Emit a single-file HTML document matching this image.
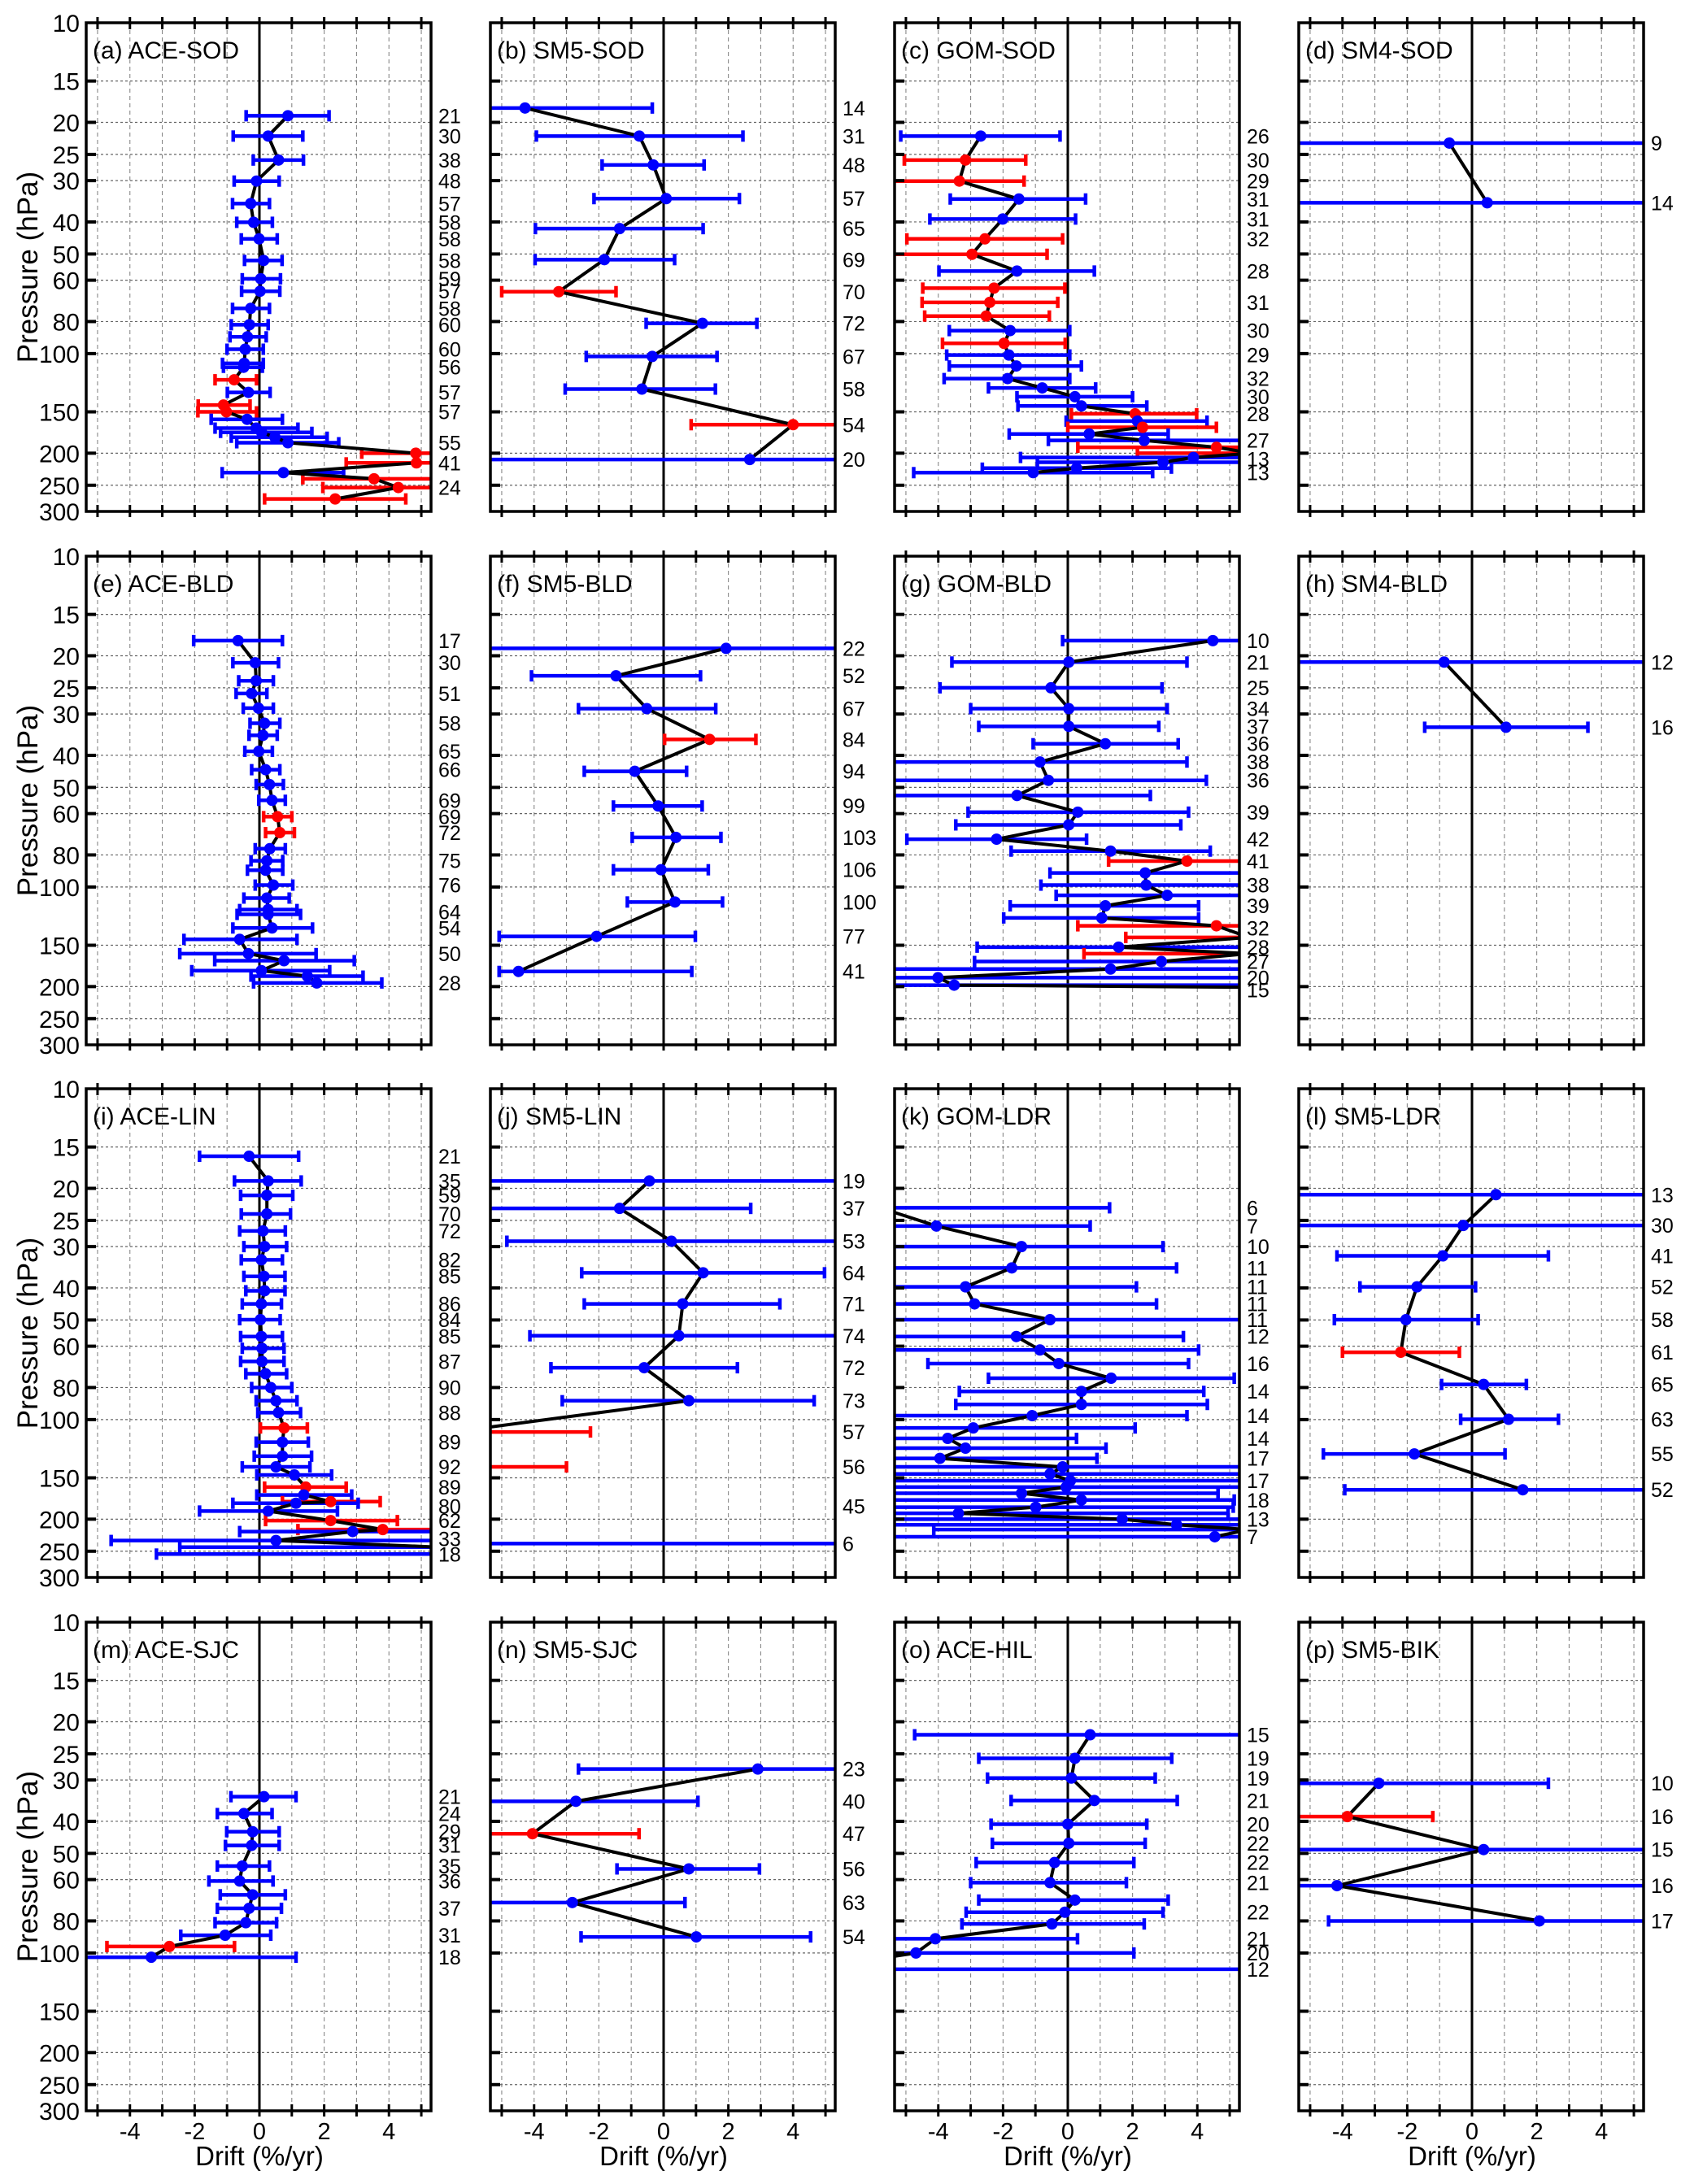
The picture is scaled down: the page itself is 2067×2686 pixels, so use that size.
<!DOCTYPE html>
<html><head><meta charset="utf-8">
<style>
html,body{margin:0;padding:0;background:#fff;}
svg{display:block;font-family:"Liberation Sans",sans-serif;}
</style></head>
<body>
<svg id="chart" width="2067" height="2686" viewBox="0 0 2067 2686" xmlns="http://www.w3.org/2000/svg">
<defs id="defs"></defs>
<g id="root"></g>
</svg>
<script>
// ---------- data ----------
const a_pres=[19.1,22,26,30.1,35.2,40.1,45,52.3,59.4,64.8,73,81.8,89,97,107,110,120,131,143,150,158,168,173,179,186,200,214,229,239,254,275];
const a_drift=[0.88,0.27,0.59,-0.09,-0.27,-0.18,-0.01,0.13,0.04,0.02,-0.27,-0.31,-0.37,-0.44,-0.47,-0.49,-0.78,-0.34,-1.11,-1.02,-0.38,-0.1,0.07,0.48,0.88,4.83,4.85,0.74,3.54,4.29,2.34];
const a_lo=[-0.41,-0.81,-0.19,-0.78,-0.83,-0.7,-0.56,-0.46,-0.53,-0.55,-0.83,-0.87,-0.91,-1.0,-1.14,-1.11,-1.37,-0.99,-1.89,-1.9,-1.49,-1.37,-1.2,-0.87,-0.7,3.16,2.68,-1.15,1.34,1.96,0.16];
const a_hi=[2.15,1.34,1.36,0.61,0.31,0.4,0.55,0.7,0.65,0.63,0.31,0.27,0.21,0.12,0.12,0.09,-0.09,0.33,-0.29,-0.09,0.71,1.19,1.62,2.09,2.45,5.6,5.6,2.6,5.6,5.6,4.52];
const a_red=[16,18,19,25,26,28,29,30];
const a_cntP=[19.1,22,26,30.1,35.2,40.1,45,52.3,59.4,64.8,73,81.8,97,110,131,150,186,214,254];
const a_cnt=[21,30,38,48,57,58,58,58,59,57,58,60,60,56,57,57,55,41,24];

const b_pres=[18.1,22,26.9,34,41.9,52,65,81,102,128,164,209];
const b_drift=[-4.28,-0.75,-0.32,0.08,-1.36,-1.83,-3.24,1.2,-0.35,-0.67,4.0,2.66];
const b_lo=[-5.6,-3.93,-1.9,-2.15,-3.96,-3.97,-5.0,-0.54,-2.39,-3.04,0.85,-5.6];
const b_hi=[-0.35,2.45,1.25,2.34,1.22,0.34,-1.47,2.88,1.65,1.6,5.6,5.6];
const b_red=[6,10];
const b_cntP=b_pres;
const b_cnt=[14,31,48,57,65,69,70,72,67,58,54,20];

const c_pres=[22,26,30.1,34.1,39.2,45,50.1,56.3,63.4,70,77,85.2,93.1,101,109,119,127,135,144,152,160,167,175,183,192,200,206,213,222,229];
const c_drift=[-2.69,-3.16,-3.35,-1.51,-2.01,-2.56,-2.96,-1.57,-2.28,-2.41,-2.52,-1.78,-1.97,-1.82,-1.59,-1.86,-0.79,0.22,0.42,2.08,2.15,2.31,0.66,2.36,4.59,5.7,3.88,2.94,0.27,-1.07];
const c_lo=[-5.16,-5.05,-5.6,-3.63,-4.26,-4.97,-5.6,-3.98,-4.48,-4.5,-4.42,-3.66,-3.87,-3.74,-3.66,-3.82,-2.45,-1.57,-1.54,0.11,-0.05,0,-1.81,-0.6,0.31,2.15,-1.46,-0.94,-2.64,-4.76];
const c_hi=[-0.24,-1.3,-1.35,0.55,0.24,-0.16,-0.64,0.82,-0.09,-0.31,-0.57,0.06,-0.08,0.06,0.42,0.06,0.86,2.0,2.44,3.98,4.3,4.59,3.1,5.6,5.6,8,5.6,5.6,3.2,2.62];
const c_red=[1,2,5,6,8,9,10,12,19,21,24,25];
const c_cntP=[22,26,30.1,34.1,39.2,45,56.3,70,85.2,101,119,135,152,183,208,229];
const c_cnt=[26,30,29,31,31,32,28,31,30,29,32,30,28,27,13,13];

const d_pres=[23.1,35];
const d_drift=[-0.7,0.47];
const d_lo=[-5.6,-5.6];
const d_hi=[5.6,5.6];
const d_red=[];
const d_cntP=d_pres;
const d_cnt=[9,14];

const e_pres=[18,21,23.8,26,28.8,32,34.8,38.9,44.2,49,54.7,61.3,68.5,76.6,83.3,89,98.7,108,117,121,133,144,159,167,179,186,195];
const e_drift=[-0.66,-0.13,-0.1,-0.24,-0.03,0.16,0.11,-0.02,0.19,0.31,0.39,0.56,0.63,0.32,0.23,0.19,0.43,0.23,0.27,0.27,0.39,-0.61,-0.34,0.76,0.06,1.48,1.77];
const e_lo=[-2.03,-0.82,-0.64,-0.72,-0.5,-0.29,-0.32,-0.45,-0.24,-0.1,-0.02,0.13,0.19,-0.13,-0.26,-0.37,-0.13,-0.48,-0.61,-0.69,-0.82,-2.33,-2.46,-1.38,-2.09,-0.26,-0.18];
const e_hi=[0.71,0.59,0.43,0.23,0.43,0.63,0.55,0.4,0.63,0.74,0.8,1.0,1.08,0.8,0.72,0.72,1.03,0.92,1.16,1.27,1.64,1.16,1.75,2.93,2.17,3.2,3.78];
const e_red=[11,12];
const e_cntP=[18,21,26,32,38.9,44.2,54.7,61.3,68.5,83.3,98.7,119,133,159,195];
const e_cnt=[17,30,51,58,65,66,69,69,72,75,76,64,54,50,28];

const f_pres=[19,23,28.9,35.8,44.7,56.9,70.8,88.7,111,141,180];
const f_drift=[1.93,-1.47,-0.52,1.42,-0.89,-0.17,0.38,-0.08,0.35,-2.07,-4.48];
const f_lo=[-5.6,-4.08,-2.63,0.03,-2.45,-1.55,-0.97,-1.55,-1.12,-5.08,-5.08];
const f_hi=[5.6,1.14,1.61,2.85,0.71,1.19,1.77,1.38,1.82,0.98,0.87];
const f_red=[3];
const f_cntP=f_pres;
const f_cnt=[22,52,67,84,94,99,103,106,100,77,41];

const g_pres=[18,20.9,25,28.9,32.7,36.9,41.9,47.6,52.9,59.4,64.9,71.7,77.9,83.5,90.7,98.7,106,114,124,131,142,152,159,168,177,188,198,201];
const g_drift=[4.48,0.03,-0.52,0.03,0.03,1.16,-0.86,-0.6,-1.57,0.31,0.03,-2.2,1.32,3.68,2.39,2.42,3.07,1.16,1.05,4.59,5.6,1.57,5.6,2.89,1.32,-4.01,-3.51,5.6];
const g_lo=[-0.16,-3.58,-3.95,-3.0,-2.75,-1.07,-5.6,-5.6,-5.6,-3.08,-3.46,-4.97,-1.75,1.26,-0.55,-0.83,-0.36,-1.78,-1.98,0.31,1.79,-2.8,0.5,-2.88,-5.6,-5.6,-5.6,5.6];
const g_hi=[5.6,3.68,2.91,3.07,2.81,3.41,3.68,4.28,2.55,3.73,3.49,0.58,4.4,5.6,5.6,5.6,5.6,4.04,4.04,5.6,8,5.6,8,5.6,5.6,5.6,5.6,8];
const g_red=[13,19,20,22];
const g_cntP=[18,20.9,25,28.9,32.7,36.9,41.9,47.6,59.4,71.7,83.5,98.7,114,133,152,168,188,205];
const g_cnt=[10,21,25,34,37,36,38,36,39,42,41,38,39,32,28,27,20,15];

const h_pres=[20.9,32.9];
const h_drift=[-0.86,1.05];
const h_lo=[-5.6,-1.46];
const h_hi=[5.6,3.58];
const h_red=[];
const h_cntP=h_pres;
const h_cnt=[12,16];

const i_pres=[16,19,21,23.9,26.9,30,32.9,36.9,40.8,44.7,49.9,56.1,60.9,66.7,72.7,80,87.7,95.3,106,117,129,139,147,160,169,177,179,189,202,215,218,232,243,255];
const i_drift=[-0.32,0.27,0.23,0.23,0.11,0.16,0.06,0.14,0.16,0.06,0.03,0.06,0.08,0.08,0.19,0.35,0.51,0.59,0.76,0.71,0.71,0.51,1.08,1.43,1.37,2.2,1.13,0.27,2.2,3.81,2.88,0.51,5.6,6];
const i_lo=[-1.85,-0.77,-0.58,-0.56,-0.61,-0.48,-0.56,-0.48,-0.42,-0.53,-0.61,-0.58,-0.53,-0.58,-0.42,-0.24,-0.1,-0.05,0.03,-0.1,-0.16,-0.53,-0.08,0.16,-0.08,0.71,-0.82,-1.85,0.19,1.19,-0.61,-4.58,-2.46,-3.18];
const i_hi=[1.21,1.29,1.03,0.96,0.8,0.84,0.71,0.79,0.79,0.68,0.64,0.71,0.76,0.76,0.84,1.0,1.16,1.27,1.48,1.51,1.61,1.56,2.23,2.68,2.85,3.73,3.05,2.41,4.26,5.6,5.6,5.6,5.6,5.6];
const i_red=[18,23,25,28,29];
const i_cntP=[16,19,21,23.9,26.9,32.9,36.9,44.7,49.9,56.1,66.7,80,95.3,117,139,160,183,202,229,255];
const i_cnt=[21,35,59,70,72,82,85,86,84,85,87,90,88,89,92,89,80,62,33,18];

const j_pres=[19,23,28.9,36,44.7,55.8,69.7,87.7,109,139,237];
const j_drift=[-0.44,-1.36,0.24,1.22,0.59,0.47,-0.6,0.78,-6.5,-6.5,-6.5];
const j_lo=[-5.6,-5.6,-4.84,-2.53,-2.45,-4.13,-3.48,-3.13,-9,-9,-9];
const j_hi=[5.6,2.69,5.6,4.97,3.59,5.6,2.28,4.65,-2.26,-3.0,9];
const j_red=[8,9];
const j_cntP=[19,23,28.9,36,44.7,55.8,69.7,87.7,109,139,183,237];
const j_cnt=[19,37,53,64,71,74,72,73,57,56,45,6];

const k_pres=[22.9,26,30,34.8,39.7,44.7,49.9,56.1,61.6,67.7,75,82.2,90,97.3,106,114,122,131,139,146,153,160,167,175,184,192,200,208,215,226];
const k_drift=[-5.8,-4.06,-1.43,-1.73,-3.16,-2.88,-0.55,-1.59,-0.86,-0.28,1.34,0.42,0.42,-1.1,-2.92,-3.71,-3.16,-3.95,-0.16,-0.55,0.08,-0.05,-1.43,0.42,-0.99,-3.38,1.68,3.36,5.6,4.54];
const k_lo=[-9,-5.6,-5.6,-5.6,-5.6,-5.6,-5.6,-5.6,-5.6,-4.32,-2.45,-3.35,-3.46,-5.6,-5.6,-5.6,-5.6,-5.6,-5.6,-5.6,-5.6,-5.6,-5.6,-5.6,-5.6,-5.6,-5.6,-5.6,-4.14,-5.6];
const k_hi=[1.29,0.69,2.94,3.36,2.12,2.74,5.6,3.57,4.04,3.73,5.14,4.2,4.31,3.68,2.08,0.27,1.18,0.9,5.6,5.6,5.6,5.6,4.64,5.14,5.11,4.95,5.6,5.6,8,5.6];
const k_red=[];
const k_cntP=[22.9,26,30,34.8,39.7,44.7,49.9,56.1,67.7,82.2,97.3,114,131,153,175,200,226];
const k_cnt=[6,7,10,11,11,11,11,12,16,14,14,14,17,17,18,13,7];

const l_pres=[20.9,25.9,32,39.7,49.9,62.6,78.3,99.8,127,163];
const l_drift=[0.74,-0.27,-0.9,-1.7,-2.04,-2.2,0.36,1.13,-1.78,1.57];
const l_lo=[-5.6,-5.6,-4.17,-3.46,-4.25,-4.0,-0.94,-0.35,-4.59,-3.93];
const l_hi=[5.6,5.6,2.36,0.11,0.19,-0.39,1.68,2.67,1.02,5.6];
const l_red=[5];
const l_cntP=l_pres;
const l_cnt=[13,30,41,52,58,61,65,63,55,52];

const m_pres=[33.7,37.9,43,47.3,54.6,60.6,66.7,73.3,81,88.4,95.6,103];
const m_drift=[0.14,-0.48,-0.21,-0.24,-0.53,-0.61,-0.21,-0.32,-0.42,-1.06,-2.78,-3.34];
const m_lo=[-0.88,-1.3,-1.01,-1.05,-1.3,-1.56,-1.21,-1.3,-1.37,-2.43,-4.71,-5.6];
const m_hi=[1.13,0.39,0.61,0.61,0.31,0.42,0.8,0.68,0.53,0.35,-0.77,1.13];
const m_red=[10];
const m_cntP=[33.7,37.9,43,47.3,54.6,60.6,73.3,88.4,103];
const m_cnt=[21,24,29,31,35,36,37,31,18];

const n_pres=[27.8,34.8,43.6,55.7,70.4,89.4];
const n_drift=[2.91,-2.71,-4.05,0.78,-2.82,1.01];
const n_lo=[-2.63,-5.6,-5.6,-1.44,-5.6,-2.55];
const n_hi=[5.6,1.06,-0.76,2.96,0.66,4.54];
const n_red=[2];
const n_cntP=n_pres;
const n_cnt=[23,40,47,56,63,54];

const o_pres=[21.9,25.8,29.6,34.6,40.8,46.6,53.3,61.3,69.2,75.3,81.7,90.6,100,112];
const o_drift=[0.69,0.22,0.11,0.82,0,0.03,-0.41,-0.55,0.22,-0.09,-0.49,-4.09,-4.69,-8];
const o_lo=[-4.73,-2.75,-2.48,-1.75,-2.37,-2.33,-2.83,-3.0,-2.75,-3.14,-3.27,-5.6,-5.6,-12];
const o_hi=[5.6,3.21,2.7,3.38,2.44,2.39,2.04,1.81,3.1,2.94,2.36,0.3,2.04,9];
const o_red=[];
const o_cntP=[21.9,25.8,29.6,34.6,40.8,46.6,53.3,61.3,75.3,90.6,100,112];
const o_cnt=[15,19,19,21,20,22,22,21,22,21,20,12];

const p_pres=[30.7,38.7,48.7,62.6,80];
const p_drift=[-2.88,-3.85,0.36,-4.17,2.08];
const p_lo=[-5.6,-5.6,-5.6,-5.6,-4.43];
const p_hi=[2.36,-1.21,5.6,5.6,5.6];
const p_red=[1];
const p_cntP=p_pres;
const p_cnt=[10,16,15,16,17];

const panelTitles=['(a) ACE-SOD','(b) SM5-SOD','(c) GOM-SOD','(d) SM4-SOD','(e) ACE-BLD','(f) SM5-BLD','(g) GOM-BLD','(h) SM4-BLD','(i) ACE-LIN','(j) SM5-LIN','(k) GOM-LDR','(l) SM5-LDR','(m) ACE-SJC','(n) SM5-SJC','(o) ACE-HIL','(p) SM5-BIK'];
const yTicks=[10,15,20,25,30,40,50,60,80,100,150,200,250,300];
const yGrid=[15,20,25,30,40,50,60,80,100,150,200,250];
const xTickLabels=[-4,-2,0,2,4];

const panels=[
 [a_pres,a_drift,a_lo,a_hi,a_red,a_cntP,a_cnt],
 [b_pres,b_drift,b_lo,b_hi,b_red,b_cntP,b_cnt],
 [c_pres,c_drift,c_lo,c_hi,c_red,c_cntP,c_cnt],
 [d_pres,d_drift,d_lo,d_hi,d_red,d_cntP,d_cnt],
 [e_pres,e_drift,e_lo,e_hi,e_red,e_cntP,e_cnt],
 [f_pres,f_drift,f_lo,f_hi,f_red,f_cntP,f_cnt],
 [g_pres,g_drift,g_lo,g_hi,g_red,g_cntP,g_cnt],
 [h_pres,h_drift,h_lo,h_hi,h_red,h_cntP,h_cnt],
 [i_pres,i_drift,i_lo,i_hi,i_red,i_cntP,i_cnt],
 [j_pres,j_drift,j_lo,j_hi,j_red,j_cntP,j_cnt],
 [k_pres,k_drift,k_lo,k_hi,k_red,k_cntP,k_cnt],
 [l_pres,l_drift,l_lo,l_hi,l_red,l_cntP,l_cnt],
 [m_pres,m_drift,m_lo,m_hi,m_red,m_cntP,m_cnt],
 [n_pres,n_drift,n_lo,n_hi,n_red,n_cntP,n_cnt],
 [o_pres,o_drift,o_lo,o_hi,o_red,o_cntP,o_cnt],
 [p_pres,p_drift,p_lo,p_hi,p_red,p_cntP,p_cnt]
];

// ---------- drawing ----------
const NS='http://www.w3.org/2000/svg';
const root=document.getElementById('root');
const defs=document.getElementById('defs');
const W=424,H=601,X0=-5.35,X1=5.3;
const lefts=[106,603,1100,1597], tops=[28,684,1339,1995];
function mk(tag,attrs,parent){const e=document.createElementNS(NS,tag);for(const k in attrs)e.setAttribute(k,attrs[k]);(parent||root).appendChild(e);return e;}

panels.forEach((pd,idx)=>{
  const [pres,drift,lo,hi,red,cntP,cnt]=pd;
  const col=idx%4,row=Math.floor(idx/4);
  const L=lefts[col],T=tops[row];
  const xs=v=>L+(v-X0)/(X1-X0)*W;
  const ys=p=>T+Math.log10(p/10)/Math.log10(30)*H;
  const g=mk('g',{});
  
  
  const cp=mk('clipPath',{id:'clip'+idx},defs);
  mk('rect',{x:L,y:T,width:W,height:H},cp);
  for(let v=-5;v<=5;v++){
    if(v===0)continue;
    const gl=mk('line',{x1:xs(v),x2:xs(v),y1:T,y2:T+H,stroke:'#888','stroke-width':1.1,'stroke-dasharray':'5,4'},g);
    
    
  }
  yGrid.forEach(p=>{
    const gl=mk('line',{x1:L,x2:L+W,y1:ys(p),y2:ys(p),stroke:'#666','stroke-width':1.2,'stroke-dasharray':'3,3'},g);
    
    
  });
  const zl=mk('line',{x1:xs(0),x2:xs(0),y1:T,y2:T+H,stroke:'#000','stroke-width':3},g);
  
  
  const dg=mk('g',{'clip-path':'url(#clip'+idx+')'},g);
  pres.forEach((p,k)=>{
    const c=red.includes(k)?'#ff0000':'#0000ff';
    const y=ys(p);
    const eb=mk('g',{stroke:c,'stroke-width':4.5},dg);
    
    
    mk('line',{x1:xs(lo[k]),x2:xs(hi[k]),y1:y,y2:y},eb);
    mk('line',{x1:xs(lo[k]),x2:xs(lo[k]),y1:y-7,y2:y+7},eb);
    mk('line',{x1:xs(hi[k]),x2:xs(hi[k]),y1:y-7,y2:y+7},eb);
  });
  const pts=pres.map((p,k)=>xs(drift[k]).toFixed(1)+','+ys(p).toFixed(1)).join(' ');
  const pl=mk('polyline',{points:pts,fill:'none',stroke:'#000','stroke-width':4,'stroke-linejoin':'round'},dg);
  
  
  pres.forEach((p,k)=>{
    const c=red.includes(k)?'#ff0000':'#0000ff';
    const dot=mk('circle',{cx:xs(drift[k]),cy:ys(p),r:7,fill:c},dg);
    
    
  });
  for(let v=-5;v<=5;v++){
    mk('line',{x1:xs(v),x2:xs(v),y1:T-7,y2:T+8,stroke:'#000','stroke-width':3},g);
    mk('line',{x1:xs(v),x2:xs(v),y1:T+H-8,y2:T+H+7,stroke:'#000','stroke-width':3},g);
  }
  yGrid.forEach(p=>mk('line',{x1:L,x2:L+12,y1:ys(p),y2:ys(p),stroke:'#000','stroke-width':4},g));
  const fr=mk('rect',{x:L,y:T,width:W,height:H,fill:'none',stroke:'#000','stroke-width':3.5},g);
  
  
  const tt=mk('text',{x:L+8,y:T+44,'font-size':30,fill:'#000'},g);
  tt.textContent=panelTitles[idx];
  
  
  cntP.forEach((p,k)=>{
    const t=mk('text',{x:L+433,y:ys(p)+9,'font-size':25,fill:'#000'},g);
    t.textContent=cnt[k];
    
    
  });
  if(col===0){
    yTicks.forEach(p=>{
      const t=mk('text',{x:L-8,y:ys(p)+11,'font-size':30,'text-anchor':'end',fill:'#000'},g);
      t.textContent=p;
      
      
    });
    const yt=mk('text',{x:0,y:0,'font-size':35,'text-anchor':'middle',fill:'#000',transform:'translate(46,'+(T+H/2)+') rotate(-90)'},g);
    yt.textContent='Pressure (hPa)';
    
    
  }
  if(row===3){
    xTickLabels.forEach(v=>{
      const t=mk('text',{x:xs(v),y:T+H+35,'font-size':29,'text-anchor':'middle',fill:'#000'},g);
      t.textContent=v;
      
      
    });
    const xt=mk('text',{x:xs(0),y:T+H+67,'font-size':33,'text-anchor':'middle',fill:'#000'},g);
    xt.textContent='Drift (%/yr)';
    
    
  }
});
</script>
</body></html>
